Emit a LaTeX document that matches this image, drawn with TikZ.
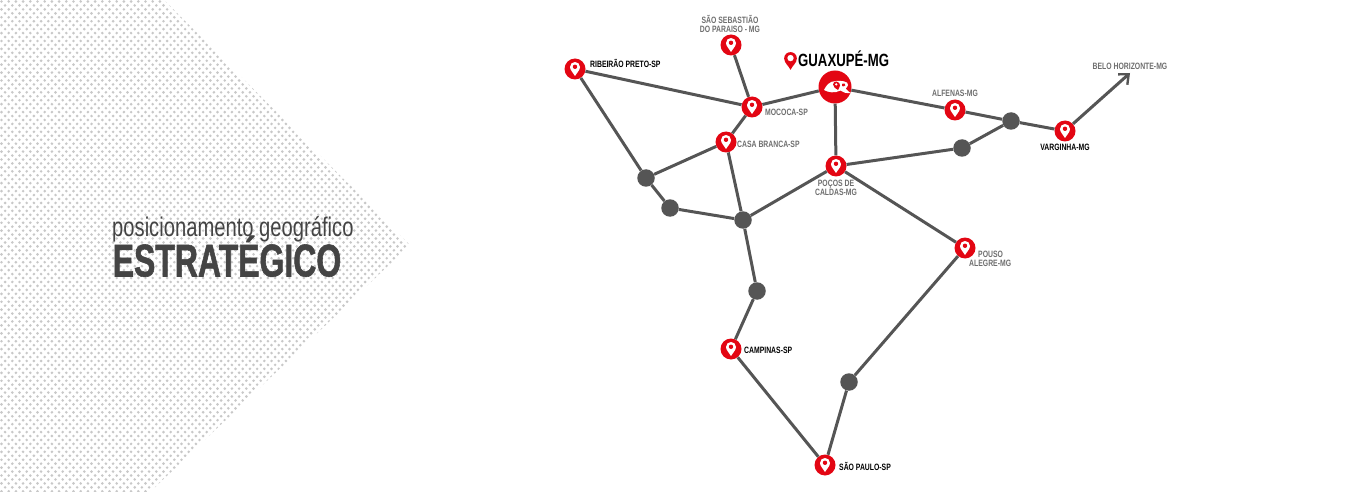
\documentclass[tikz,border=0pt]{standalone}
\usepackage{fontspec}
\setmainfont{Liberation Sans}
\newfontfamily\condb[FakeStretch=0.745]{Liberation Sans Bold}
\newfontfamily\condh[FakeStretch=0.695,FakeBold=1.2]{Liberation Sans Bold}
\newfontfamily\condt[FakeStretch=0.748]{Liberation Sans}
\usetikzlibrary{arrows.meta}
\definecolor{lred}{HTML}{E30613}
\definecolor{lgray}{HTML}{555555}
\definecolor{tgray}{HTML}{6E6E6E}
\definecolor{dgray}{HTML}{444444}
\definecolor{dotc}{HTML}{C8C8C8}
\newcommand{\pinshape}[1]{%
  \fill[#1] (0,7) .. controls (-1.5,3.6) and (-5,1.6) .. (-5,-2)
    .. controls (-5,-5) and (-2.7,-7) .. (0,-7)
    .. controls (2.7,-7) and (5,-5) .. (5,-2)
    .. controls (5,1.6) and (1.5,3.6) .. (0,7) -- cycle;}
\tikzset{
  x=1pt,y=-1pt,
  link/.style={draw=lgray,line width=3pt},
  city/.style={circle,fill=lred,minimum size=21pt,inner sep=0pt,
    path picture={
      \begin{scope}[shift={(path picture bounding box.center)},scale=0.9]
      \pinshape{white}
      \fill[lred] (0,-2.2) circle[radius=2.2];
      \end{scope}}},
  junction/.style={circle,fill=lgray,minimum size=17.5pt,inner sep=0pt},
  lab/.style={inner sep=0pt,font=\condb\fontsize{9.2}{10}\selectfont,align=center},
  labk/.style={lab,text=black},
  labg/.style={lab,text=tgray},
  hub/.style={circle,fill=lred,minimum size=33pt,inner sep=0pt},
}
\begin{document}
\begin{tikzpicture}
\useasboundingbox (0,0) rectangle (1366,492);
\begin{scope}
  \clip (0,0) -- (164,0) -- (410,245) -- (150,492) -- (0,492) -- cycle;
  \foreach \r in {0,...,125} {
    \pgfmathtruncatemacro{\ncol}{min(58,(164+min(\r*3.95,245)+max(0,\r*3.95-245)*(-1.05)+10)/7.2)}
    \fill[dotc]
    \foreach \c in {0,...,\ncol} {
      ({\c*7.2+mod(\r,2)*3.6+1.5},{\r*3.95+1.5}) circle[radius=1.45]
    };
  }
\end{scope}
\node[anchor=base west,inner sep=0pt,text=dgray,font=\condt\fontsize{27}{27}\selectfont] (t1) at (112,236) {posicionamento geográfico};
\node[anchor=base west,inner sep=0pt,text=dgray,font=\condh\fontsize{46}{46}\selectfont] (t2) at (112.5,276.5) {ESTRATÉGICO};

\node[city] (rib) at (575,69) {};
\node[city] (seb) at (731,45) {};
\node[city] (moc) at (752,107) {};
\node[hub] (gua) at (835,87) {};
\node[city] (cas) at (726,142) {};
\node[city] (poc) at (836,166) {};
\node[city] (alf) at (955,110) {};
\node[city] (var) at (1065,131) {};
\node[city] (pou) at (965,248) {};
\node[city] (cam) at (731,349) {};
\node[city] (sao) at (825,465) {};
\node[junction] (ja) at (646,178) {};
\node[junction] (jb) at (670,208) {};
\node[junction] (jc) at (743,220) {};
\node[junction] (jd) at (757,291) {};
\node[junction] (je) at (849,382) {};
\node[junction] (jf) at (962,148) {};
\node[junction] (jg) at (1011,121) {};
\coordinate (bh) at (1130,73);

\path[link] (rib) -- (moc);
\path[link] (rib) -- (ja);
\path[link] (ja) -- (jb);
\path[link] (jb) -- (jc);
\path[link] (ja) -- (cas);
\path[link] (cas) -- (moc);
\path[link] (cas) -- (jc);
\path[link] (seb) -- (moc);
\path[link] (moc) -- (gua);
\path[link] (gua) -- (poc);
\path[link] (gua) -- (alf);
\path[link] (alf) -- (jg);
\path[link] (jg) -- (var);
\path[link] (jg) -- (jf);
\path[link] (jf) -- (poc);
\path[link] (poc) -- (jc);
\path[link] (jc) -- (jd);
\path[link] (jd) -- (cam);
\path[link] (cam) -- (sao);
\path[link] (sao) -- (je);
\path[link] (je) -- (pou);
\path[link] (pou) -- (poc);
\path[link,-{Straight Barb[length=8pt,width=14pt,line width=2.4pt]}] (var) -- (bh);

% logo inside the hub
\begin{scope}[shift={(gua.center)}]
  \fill[white] (-11,3) .. controls (-9,-1) and (-6,-6) .. (1,-6)
     .. controls (5,-6.5) and (14,-6) .. (13,-2)
     .. controls (13,0) and (11,1) .. (10.5,1.5)
     .. controls (12,3) and (14,5) .. (15.5,6)
     .. controls (11,6.5) and (8,5.5) .. (5.5,3.5)
     .. controls (0,6.5) and (-7,5.5) .. (-11,3) -- cycle;
  \fill[lred] (3,3) .. controls (1,2) and (-2,0) .. (-2,-2.5)
     .. controls (-2,-5) and (0,-5.5) .. (1.5,-5.5)
     .. controls (4,-5.5) and (5,-3) .. (5,-1.5)
     .. controls (5,0) and (3.5,1.5) .. (3,3) -- cycle;
  \fill[white] (1.2,-2.6) circle[radius=1.3];
  \fill[lred] (7,-3.2) .. controls (9,-4) and (11,-3.5) .. (10.3,-1.6)
     .. controls (9.5,-0.3) and (8,-0.6) .. (7,-1) -- cycle;
\end{scope}

% big pin beside the main label
\begin{scope}[shift={(790.5,61)},scale=1.27]
  \pinshape{lred}
  \fill[white] (0,-2.3) circle[radius=2.5];
\end{scope}
\node[anchor=base west,inner sep=0pt,text=black,font=\condb\fontsize{17.7}{18}\selectfont] (lgua) at (798,67) {GUAXUPÉ-MG};

\node[labg] (lseb) at (730,24) {SÃO SEBASTIÃO\\[-1.5pt]DO PARAISO - MG};
\node[labk,anchor=west] (lrib) at (590,63) {RIBEIRÃO PRETO-SP};
\node[labg,anchor=west] (lmoc) at (765,112) {MOCOCA-SP};
\node[labg,anchor=west] (lcas) at (737,144) {CASA BRANCA-SP};
\node[labg] (lpoc) at (836,188) {POÇOS DE\\[-1.5pt]CALDAS-MG};
\node[labg] (lalf) at (955,93) {ALFENAS-MG};
\node[labk] (lvar) at (1065,147) {VARGINHA-MG};
\node[labg] (lbh) at (1130,66) {BELO HORIZONTE-MG};
\node[labg,anchor=north west,align=left] (lpou) at (969,251) {\hspace*{9pt}POUSO\\[-1.5pt]ALEGRE-MG};
\node[labk,anchor=west] (lcam) at (744,350) {CAMPINAS-SP};
\node[labk,anchor=west] (lsao) at (839,466) {SÃO PAULO-SP};
\end{tikzpicture}
\end{document}
